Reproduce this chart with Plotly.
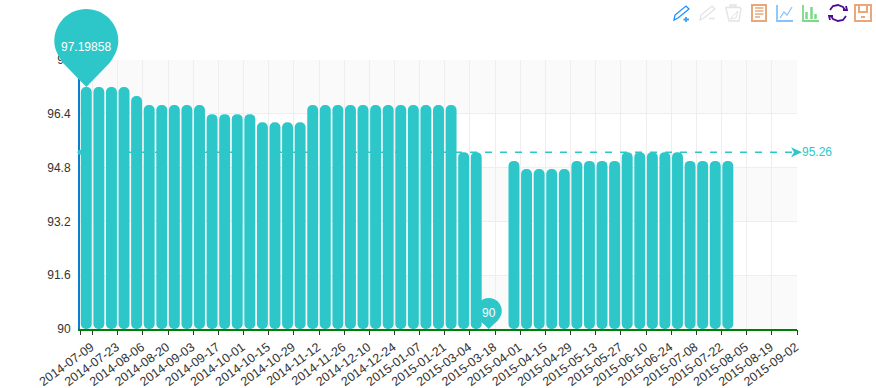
import plotly.graph_objects as go
import math

dates = ["2014-07-09","2014-07-16","2014-07-23","2014-07-30","2014-08-06","2014-08-13","2014-08-20","2014-08-27",
"2014-09-03","2014-09-10","2014-09-17","2014-09-24","2014-10-01","2014-10-08","2014-10-15","2014-10-22",
"2014-10-29","2014-11-05","2014-11-12","2014-11-19","2014-11-26","2014-12-03","2014-12-10","2014-12-17",
"2014-12-24","2014-12-31","2015-01-07","2015-01-14","2015-01-21","2015-02-25","2015-03-04","2015-03-11",
"2015-03-18","2015-03-25","2015-04-01","2015-04-08","2015-04-15","2015-04-22","2015-04-29","2015-05-06",
"2015-05-13","2015-05-20","2015-05-27","2015-06-03","2015-06-10","2015-06-17","2015-06-24","2015-07-01",
"2015-07-08","2015-07-15","2015-07-22","2015-07-29","2015-08-05","2015-08-12","2015-08-19","2015-08-26","2015-09-02"]
values = [97.19858,97.19858,97.19858,97.19858,96.93,96.66,96.66,96.66,96.66,96.66,
96.39,96.39,96.39,96.39,96.15,96.15,96.15,96.15,
96.66,96.66,96.66,96.66,96.66,96.66,96.66,96.66,96.66,96.66,96.66,96.66,
95.26,95.26,90,None,
95.0,94.76,94.76,94.76,94.76,95.0,95.0,95.0,95.0,
95.26,95.26,95.26,95.26,95.26,95.0,95.0,95.0,95.0,None,None,None,None,None]
ytick = [90,91.6,93.2,94.8,96.4,98]
average = 95.26
max_value = 97.19858
min_value = 90

TEAL = "#2ec7c9"
GRID = "#eeeeee"
L,R,T,B = 80,797,60,329
YMIN,YMAX = ytick[0],ytick[-1]
NCAT = len(dates)

def xdom(i): return (i+0.5)/NCAT
def ydom(v): return (v-YMIN)/(YMAX-YMIN)

fig = go.Figure()
fig.add_trace(go.Bar(x=dates, base=[min_value if v is not None else None for v in values],
    y=[v-min_value if v is not None else None for v in values],
    marker=dict(color=TEAL, cornerradius=5, line_width=0), width=0.87, hoverinfo="skip"))
fig.add_trace(go.Scatter(x=[0.5], y=[90], xaxis="x2", mode="markers", marker_opacity=0, hoverinfo="skip"))

shapes = []
for lo,hi in [(90,91.6),(93.2,94.8),(96.4,98)]:
    shapes.append(dict(type="rect", xref="x domain", yref="y", x0=0, x1=1, y0=lo, y1=hi,
                       fillcolor="#fafafa", line_width=0, layer="below"))
shapes.append(dict(type="line", xref="x domain", yref="y", x0=0, x1=1, y0=average, y1=average,
                   line=dict(color=TEAL, width=1.5, dash="7px 8px")))

def pin_path(r, d):
    th = math.acos(r/d)
    tx, ty = r*math.sin(th), d - r*math.cos(th)
    k = 0.5523*r
    return (f"M0,0 L{tx:.1f},{ty:.1f} C{r*0.86:.1f},{d-r*0.5:.1f} {r},{d-k*0.5:.1f} {r},{d:.1f} "
            f"C{r},{d+k:.1f} {k:.1f},{d+r:.1f} 0,{d+r:.1f} C{-k:.1f},{d+r:.1f} {-r},{d+k:.1f} {-r},{d:.1f} "
            f"C{-r},{d-k*0.5:.1f} {-r*0.86:.1f},{d-r*0.5:.1f} {-tx:.1f},{ty:.1f} Z")

def anchored(xd, yv, **kw):
    return dict(xref="x domain", yref="y domain", xsizemode="pixel", ysizemode="pixel",
                xanchor=xd, yanchor=ydom(yv), line_width=0, fillcolor=TEAL, **kw)
shapes.append(anchored(xdom(0), max_value, type="path", path=pin_path(32,46)))
shapes.append(anchored(xdom(32), min_value, type="path", path=pin_path(13,18)))
shapes.append(anchored(1, average, type="path", path="M5,0 L-6,5 L-3,0 L-6,-5 Z"))
shapes.append(anchored(0, average, type="circle", x0=-2.5, x1=2.5, y0=-2.5, y1=2.5))

def px(x): return (x-L)/(R-L)
def py(y): return (B-y)/(B-T)
def icon(d, color, width=1.5, fill=None):
    out=[]
    for tok in d.split():
        if tok[0]=="Z":
            out.append("Z"); continue
        xs,ys = tok[1:].split(",")
        out.append(f"{tok[0]}{px(float(xs)):.5f},{py(float(ys)):.5f}")
    shapes.append(dict(type="path", xref="paper", yref="paper", path=" ".join(out),
                       line=dict(color=color,width=width), fillcolor=fill or "rgba(0,0,0,0)"))
BLUE="#1e90ff"; LGRAY="#e4e4e4"; ORANGE="#e8a87c"; LINEB="#87c2fb"; GREEN="#7bd987"; PURPLE="#4b0f8f"
icon("M674,20 L675,15 L686,6 L689,9 L678,18 Z", BLUE, 1.3)
icon("M686,17 L686,22 M683.5,19.5 L689,19.5", "#3fa0f5", 1.8)
icon("M700,20 L701,15 L712,6 L715,9 L704,18 Z", LGRAY, 1.3)
icon("M709,18.5 L715,18.5", LGRAY, 1.5)
icon("M725,7.5 L741,7.5 M730,5 L736,5 L736,7 L730,7 Z M726,8 L729,21 L739,21 L741,8", LGRAY, 1.4)
icon("M730,19 L738,11 L736,18 L730,19", LGRAY, 1.0)
icon("M752,5 L766,5 L766,21 L752,21 Z", ORANGE, 2)
icon("M755,8 L763.5,8 M755,11 L763.5,11 M755,14 L763.5,14 M755,17 L760,17", ORANGE, 1.5)
icon("M777,5 L777,21 L793,21", LINEB, 1.8)
icon("M780,18 L784,12 L787,15 L792,7", LINEB, 1.2)
icon("M803,5 L803,21 L819,21", GREEN, 1.8)
icon("M806.5,12 L806.5,19 M811.5,7 L811.5,19 M815.5,14 L815.5,19", GREEN, 2.5)
icon("M830,10 L833,6 L838,5 L843,7 L845,10 M843,10 L847,10 L846,6", PURPLE, 1.8)
icon("M846,16 L843,20 L838,21 L833,19 L831,16 M833,16 L829,16 L830,20", PURPLE, 1.8)
icon("M855,5 L871,5 L871,21 L855,21 Z", ORANGE, 2)
icon("M859,5 L859,12 L867,12 L867,5 M861,17 L865,17", ORANGE, 2)

annotations = [
    dict(x=xdom(0), y=ydom(max_value), xref="x domain", yref="y domain", yshift=40, text=str(max_value), showarrow=False,
         xanchor="center", yanchor="middle", font=dict(color="white", size=12, family="Liberation Sans")),
    dict(x=xdom(32), y=ydom(min_value), xref="x domain", yref="y domain", yshift=16, text=f"{min_value:g}", showarrow=False,
         xanchor="center", yanchor="middle", font=dict(color="white", size=12, family="Liberation Sans")),
    dict(x=1, xref="x domain", y=average, yref="y", xshift=3, xanchor="left", yanchor="middle", text=f"{average:g}", showarrow=False,
         font=dict(color=TEAL, size=12, family="Liberation Sans")),
]

fig.update_layout(
    width=876, height=388, margin=dict(l=L, r=876-R, t=T, b=388-B, pad=0, autoexpand=False),
    paper_bgcolor="white", plot_bgcolor="white", showlegend=False, barmode="overlay",
    font=dict(family="Liberation Sans", size=12, color="#333333"),
    shapes=shapes, annotations=annotations,
    xaxis=dict(type="category", categoryorder="array", categoryarray=dates, range=[-0.5,56.5],
               tickvals=dates[0::2], ticktext=dates[0::2], tickangle=-36, showgrid=False, ticks="",
               tickfont=dict(size=12.5), ticklabelstandoff=4, ticklabelshift=5, showline=True, linecolor="#008000", linewidth=2,
               zeroline=False),
    xaxis2=dict(overlaying="x", side="bottom", range=[-0.5,56.5], anchor="y",
                tickvals=[-0.5]+[i+0.5 for i in range(0,NCAT,2)], showticklabels=False,
                ticks="outside", ticklen=5, tickcolor="#333333", showgrid=True, gridcolor=GRID, gridwidth=1,
                zeroline=False, layer="below traces"),
    yaxis=dict(range=[YMIN,YMAX], tickvals=ytick, ticktext=[f"{t:g}" for t in ytick], showgrid=True, gridcolor=GRID, gridwidth=1,
               showline=True, linecolor="#0a7fd0", linewidth=2, zeroline=False, ticks="", ticklabelstandoff=5),
)
fig.write_html("out.html", config={"displayModeBar": False}, post_script="document.body.style.margin='0';")
